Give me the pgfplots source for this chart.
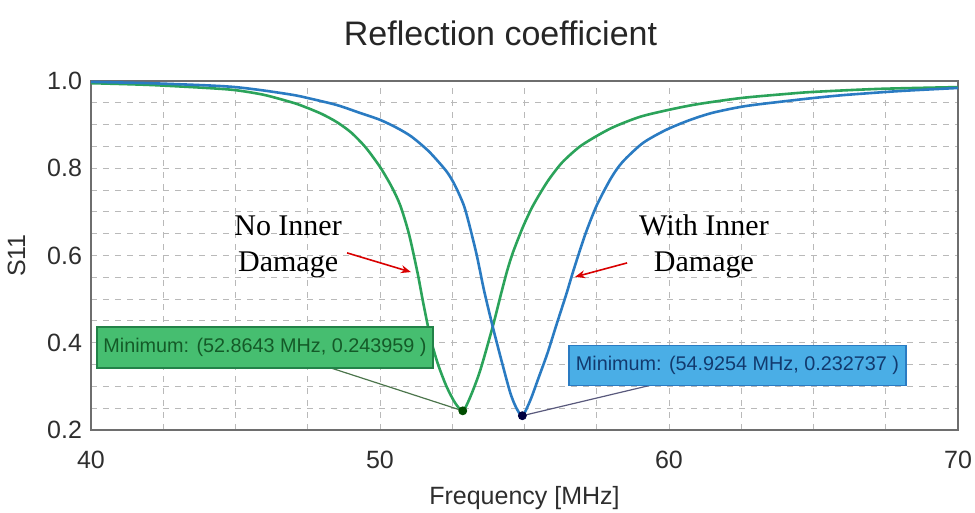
\documentclass[border=0pt]{standalone}
\usepackage{fontspec}
\setmainfont{Liberation Serif}
\setsansfont{Liberation Sans}
\usepackage{pgfplots}
\pgfplotsset{compat=1.18}
\usetikzlibrary{arrows.meta}
\definecolor{sgreen}{HTML}{2BA35A}
\definecolor{sblue}{HTML}{2A7BC2}
\definecolor{gboxfill}{HTML}{46BE70}
\definecolor{bboxfill}{HTML}{4AAEE6}
\definecolor{gboxtext}{HTML}{145A28}
\definecolor{bboxtext}{HTML}{123A6E}
\definecolor{framegray}{HTML}{6E6E6E}
\definecolor{labgray}{HTML}{2E2E2E}

\begin{document}
\begin{tikzpicture}
\begin{axis}[
  scale only axis,
  width=433.5pt, height=174.5pt,
  xmin=40, xmax=70, ymin=0.2, ymax=1.0,
  xtick={40,50,60,70},
  minor xtick={42.5,45,47.5,52.5,55,57.5,62.5,65,67.5},
  ytick={0.2,0.4,0.6,0.8,1.0},
  minor ytick={0.25,0.3,0.35,0.45,0.5,0.55,0.65,0.7,0.75,0.85,0.9,0.95},
  yticklabel style={/pgf/number format/fixed,/pgf/number format/fixed zerofill,
                    /pgf/number format/precision=1,xshift=-1pt},
  grid=both,
  major grid style={gray!55,dashed,line width=0.5pt},
  minor grid style={gray!55,dashed,line width=0.5pt},
  major tick length=0pt, minor tick length=0pt,
  axis line style={framegray,line width=1.1pt},
  tick label style={font=\sffamily\fontsize{12.5}{14}\selectfont,text=labgray},
  /pgf/number format/assume math mode=true,
  xticklabel style={yshift=-7pt},
  xlabel={Frequency [MHz]},
  ylabel={S11},
  label style={font=\sffamily\fontsize{12.5}{14}\selectfont,text=labgray},
  xlabel style={yshift=-2pt},
  ylabel style={yshift=4pt},
  title={Reflection coefficient},
  title style={font=\sffamily\fontsize{17}{20}\selectfont,text=black!85,xshift=-12pt,yshift=8pt},
  clip=false,
]
% no inner damage
\addplot[sgreen,line width=1.3pt,smooth,tension=0.45] coordinates {
(40,0.995) (42,0.991) (44,0.984) (45,0.979) (46,0.968) (47,0.950) (47.5,0.938)
(48,0.924) (48.5,0.906) (49,0.882) (49.5,0.848) (50,0.803) (50.4,0.758) (50.7,0.715)
(51,0.650) (51.3,0.56) (51.5,0.49) (51.75,0.41) (52,0.352) (52.3,0.30) (52.6,0.262)
(52.8643,0.243959) (53.1,0.272) (53.46,0.335) (53.9,0.437) (54.2,0.515) (54.4,0.565)
(54.6,0.607) (54.95,0.666) (55.3,0.715) (55.8,0.770) (56.3,0.813) (56.9,0.849)
(57.5,0.874) (58.1,0.895) (59,0.918) (60,0.934) (61,0.947) (62.5,0.961) (64,0.970)
(65,0.975) (67.3,0.982) (70,0.986)};
% with inner damage
\addplot[sblue,line width=1.3pt,smooth,tension=0.45] coordinates {
(40,0.998) (42,0.995) (44,0.990) (45,0.986) (46,0.978) (47,0.968) (47.5,0.961)
(48.5,0.945) (49.3,0.927) (50,0.911) (50.6,0.892) (51.1,0.872) (51.7,0.838) (52.3,0.793)
(52.6,0.760) (52.9,0.715) (53.1,0.668) (53.35,0.600) (53.6,0.52) (53.9,0.437) (54.2,0.36)
(54.5,0.287) (54.7,0.253) (54.9254,0.232737) (55.2,0.268) (55.5,0.322) (55.8,0.377)
(56.1,0.44) (56.45,0.512) (56.7,0.567) (57.1,0.648) (57.5,0.715) (58,0.778) (58.4,0.815)
(59.1,0.858) (59.9,0.888) (60.7,0.91) (61.5,0.927) (62.6,0.942) (63.8,0.952) (65,0.961)
(66.1,0.968) (68,0.977) (70,0.984)};
% leader lines to the minimum markers
\addplot[black!60!green!40!gray,line width=0.6pt] coordinates {(48.17,0.345) (52.8643,0.243959)};
\addplot[black!55!blue!30!gray,line width=0.6pt] coordinates {(59.58,0.306) (54.9254,0.232737)};
\addplot[only marks,mark=*,mark size=2pt,black!70!green] coordinates {(52.8643,0.243959)};
\addplot[only marks,mark=*,mark size=2pt,black!75!blue] coordinates {(54.9254,0.232737)};
% marker boxes
\node[fill=gboxfill,draw=sgreen!80!black,line width=0.6pt,minimum width=168pt,minimum height=20.5pt,
      inner sep=0pt,text=gboxtext,font=\sffamily\fontsize{9.9}{11}\selectfont]
  at (axis cs:46.02,0.389) {Minimum: (52.8643 MHz, 0.243959 )};
\node[fill=bboxfill,draw=sblue,line width=0.6pt,minimum width=168.5pt,minimum height=20pt,
      inner sep=0pt,text=bboxtext,font=\sffamily\fontsize{9.9}{11}\selectfont]
  at (axis cs:62.37,0.347) {Minimum: (54.9254 MHz, 0.232737 )};
% annotations
\node[align=center,font=\fontsize{15}{18}\selectfont] at (axis cs:46.82,0.62) {No Inner\\Damage};
\node[align=center,font=\fontsize{15}{18}\selectfont] at (axis cs:61.21,0.62) {With Inner\\Damage};
\draw[red!85!black,line width=0.8pt,-{Stealth[length=5pt,width=4pt]}] (axis cs:48.86,0.606) -- (axis cs:51.07,0.562);
\draw[red!85!black,line width=0.8pt,-{Stealth[length=5pt,width=4pt]}] (axis cs:58.55,0.583) -- (axis cs:56.75,0.551);
\end{axis}
\pgfresetboundingbox
\path (current axis.south west) ++(-45.5pt,-41.5pt) coordinate (bbl);
\path (current axis.north east) ++(8.5pt,40.5pt) coordinate (btr);
\path (bbl) rectangle (btr);
\end{tikzpicture}
\end{document}
